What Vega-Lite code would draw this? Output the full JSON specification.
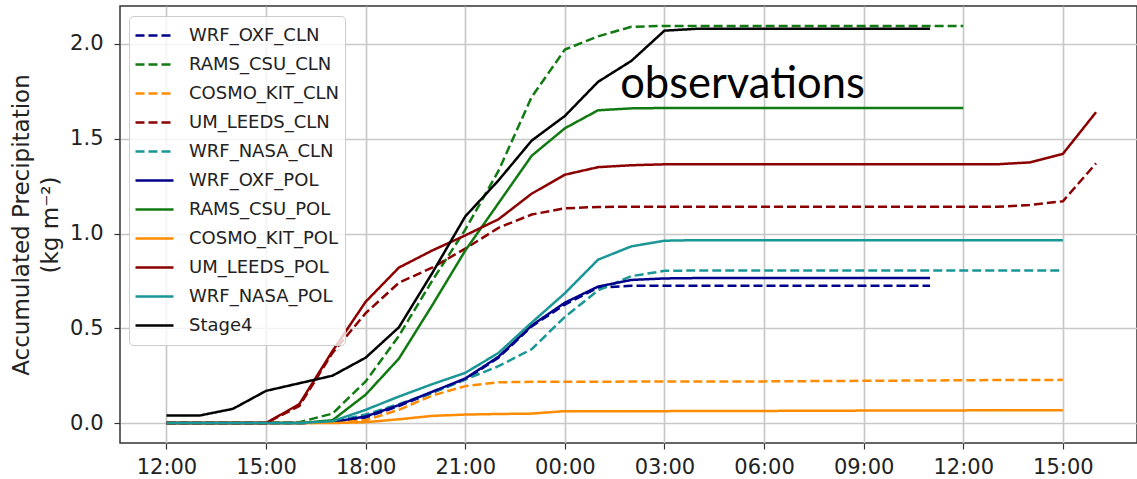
{
  "$schema": "https://vega.github.io/schema/vega-lite/v6.json",
  "autosize": {"type": "none"},
  "padding": {"left": 120, "top": 6, "right": 0, "bottom": 36},
  "width": 1017,
  "height": 437,
  "background": "white",
  "config": {
    "font": "DejaVu Sans",
    "view": {"stroke": "#333333", "strokeWidth": 1.5},
    "axis": {
      "labelFont": "DejaVu Sans",
      "labelFontSize": 21,
      "labelColor": "#222222",
      "titleFont": "DejaVu Sans",
      "titleFontSize": 23,
      "titleFontWeight": "normal",
      "titleColor": "#222222",
      "gridColor": "#c8c8c8",
      "gridWidth": 1.7,
      "tickColor": "#333333",
      "tickWidth": 1.2,
      "tickSize": 6,
      "domain": false
    },
    "legend": {
      "labelFont": "DejaVu Sans",
      "labelFontSize": 18,
      "labelColor": "#222222"
    }
  },
  "layer": [
    {
      "data": {
        "values": [
          {"s":"WRF_OXF_CLN","t":"2020-01-01T12:00:00Z","v":0},
          {"s":"WRF_OXF_CLN","t":"2020-01-01T13:00:00Z","v":0},
          {"s":"WRF_OXF_CLN","t":"2020-01-01T14:00:00Z","v":0},
          {"s":"WRF_OXF_CLN","t":"2020-01-01T15:00:00Z","v":0},
          {"s":"WRF_OXF_CLN","t":"2020-01-01T16:00:00Z","v":0},
          {"s":"WRF_OXF_CLN","t":"2020-01-01T17:00:00Z","v":0.005},
          {"s":"WRF_OXF_CLN","t":"2020-01-01T18:00:00Z","v":0.03},
          {"s":"WRF_OXF_CLN","t":"2020-01-01T19:00:00Z","v":0.09},
          {"s":"WRF_OXF_CLN","t":"2020-01-01T20:00:00Z","v":0.16},
          {"s":"WRF_OXF_CLN","t":"2020-01-01T21:00:00Z","v":0.23},
          {"s":"WRF_OXF_CLN","t":"2020-01-01T22:00:00Z","v":0.345},
          {"s":"WRF_OXF_CLN","t":"2020-01-01T23:00:00Z","v":0.51},
          {"s":"WRF_OXF_CLN","t":"2020-01-02T00:00:00Z","v":0.625},
          {"s":"WRF_OXF_CLN","t":"2020-01-02T01:00:00Z","v":0.715},
          {"s":"WRF_OXF_CLN","t":"2020-01-02T02:00:00Z","v":0.724},
          {"s":"WRF_OXF_CLN","t":"2020-01-02T03:00:00Z","v":0.725},
          {"s":"WRF_OXF_CLN","t":"2020-01-02T04:00:00Z","v":0.725},
          {"s":"WRF_OXF_CLN","t":"2020-01-02T05:00:00Z","v":0.725},
          {"s":"WRF_OXF_CLN","t":"2020-01-02T06:00:00Z","v":0.725},
          {"s":"WRF_OXF_CLN","t":"2020-01-02T07:00:00Z","v":0.725},
          {"s":"WRF_OXF_CLN","t":"2020-01-02T08:00:00Z","v":0.725},
          {"s":"WRF_OXF_CLN","t":"2020-01-02T09:00:00Z","v":0.725},
          {"s":"WRF_OXF_CLN","t":"2020-01-02T10:00:00Z","v":0.725},
          {"s":"WRF_OXF_CLN","t":"2020-01-02T11:00:00Z","v":0.725},

          {"s":"RAMS_CSU_CLN","t":"2020-01-01T12:00:00Z","v":0},
          {"s":"RAMS_CSU_CLN","t":"2020-01-01T13:00:00Z","v":0},
          {"s":"RAMS_CSU_CLN","t":"2020-01-01T14:00:00Z","v":0},
          {"s":"RAMS_CSU_CLN","t":"2020-01-01T15:00:00Z","v":0},
          {"s":"RAMS_CSU_CLN","t":"2020-01-01T16:00:00Z","v":0.005},
          {"s":"RAMS_CSU_CLN","t":"2020-01-01T17:00:00Z","v":0.05},
          {"s":"RAMS_CSU_CLN","t":"2020-01-01T18:00:00Z","v":0.22},
          {"s":"RAMS_CSU_CLN","t":"2020-01-01T19:00:00Z","v":0.46},
          {"s":"RAMS_CSU_CLN","t":"2020-01-01T20:00:00Z","v":0.75},
          {"s":"RAMS_CSU_CLN","t":"2020-01-01T21:00:00Z","v":1.02},
          {"s":"RAMS_CSU_CLN","t":"2020-01-01T22:00:00Z","v":1.33},
          {"s":"RAMS_CSU_CLN","t":"2020-01-01T23:00:00Z","v":1.72},
          {"s":"RAMS_CSU_CLN","t":"2020-01-02T00:00:00Z","v":1.97},
          {"s":"RAMS_CSU_CLN","t":"2020-01-02T01:00:00Z","v":2.04},
          {"s":"RAMS_CSU_CLN","t":"2020-01-02T02:00:00Z","v":2.09},
          {"s":"RAMS_CSU_CLN","t":"2020-01-02T03:00:00Z","v":2.095},
          {"s":"RAMS_CSU_CLN","t":"2020-01-02T04:00:00Z","v":2.095},
          {"s":"RAMS_CSU_CLN","t":"2020-01-02T05:00:00Z","v":2.095},
          {"s":"RAMS_CSU_CLN","t":"2020-01-02T06:00:00Z","v":2.095},
          {"s":"RAMS_CSU_CLN","t":"2020-01-02T07:00:00Z","v":2.095},
          {"s":"RAMS_CSU_CLN","t":"2020-01-02T08:00:00Z","v":2.095},
          {"s":"RAMS_CSU_CLN","t":"2020-01-02T09:00:00Z","v":2.095},
          {"s":"RAMS_CSU_CLN","t":"2020-01-02T10:00:00Z","v":2.095},
          {"s":"RAMS_CSU_CLN","t":"2020-01-02T11:00:00Z","v":2.095},
          {"s":"RAMS_CSU_CLN","t":"2020-01-02T12:00:00Z","v":2.095},

          {"s":"COSMO_KIT_CLN","t":"2020-01-01T12:00:00Z","v":0},
          {"s":"COSMO_KIT_CLN","t":"2020-01-01T13:00:00Z","v":0},
          {"s":"COSMO_KIT_CLN","t":"2020-01-01T14:00:00Z","v":0},
          {"s":"COSMO_KIT_CLN","t":"2020-01-01T15:00:00Z","v":0},
          {"s":"COSMO_KIT_CLN","t":"2020-01-01T16:00:00Z","v":0},
          {"s":"COSMO_KIT_CLN","t":"2020-01-01T17:00:00Z","v":0.003},
          {"s":"COSMO_KIT_CLN","t":"2020-01-01T18:00:00Z","v":0.015},
          {"s":"COSMO_KIT_CLN","t":"2020-01-01T19:00:00Z","v":0.07},
          {"s":"COSMO_KIT_CLN","t":"2020-01-01T20:00:00Z","v":0.145},
          {"s":"COSMO_KIT_CLN","t":"2020-01-01T21:00:00Z","v":0.195},
          {"s":"COSMO_KIT_CLN","t":"2020-01-01T22:00:00Z","v":0.215},
          {"s":"COSMO_KIT_CLN","t":"2020-01-01T23:00:00Z","v":0.218},
          {"s":"COSMO_KIT_CLN","t":"2020-01-02T00:00:00Z","v":0.218},
          {"s":"COSMO_KIT_CLN","t":"2020-01-02T01:00:00Z","v":0.218},
          {"s":"COSMO_KIT_CLN","t":"2020-01-02T02:00:00Z","v":0.219},
          {"s":"COSMO_KIT_CLN","t":"2020-01-02T03:00:00Z","v":0.219},
          {"s":"COSMO_KIT_CLN","t":"2020-01-02T04:00:00Z","v":0.22},
          {"s":"COSMO_KIT_CLN","t":"2020-01-02T05:00:00Z","v":0.22},
          {"s":"COSMO_KIT_CLN","t":"2020-01-02T06:00:00Z","v":0.22},
          {"s":"COSMO_KIT_CLN","t":"2020-01-02T07:00:00Z","v":0.221},
          {"s":"COSMO_KIT_CLN","t":"2020-01-02T08:00:00Z","v":0.222},
          {"s":"COSMO_KIT_CLN","t":"2020-01-02T09:00:00Z","v":0.223},
          {"s":"COSMO_KIT_CLN","t":"2020-01-02T10:00:00Z","v":0.224},
          {"s":"COSMO_KIT_CLN","t":"2020-01-02T11:00:00Z","v":0.225},
          {"s":"COSMO_KIT_CLN","t":"2020-01-02T12:00:00Z","v":0.226},
          {"s":"COSMO_KIT_CLN","t":"2020-01-02T13:00:00Z","v":0.227},
          {"s":"COSMO_KIT_CLN","t":"2020-01-02T14:00:00Z","v":0.227},
          {"s":"COSMO_KIT_CLN","t":"2020-01-02T15:00:00Z","v":0.228},

          {"s":"UM_LEEDS_CLN","t":"2020-01-01T12:00:00Z","v":0},
          {"s":"UM_LEEDS_CLN","t":"2020-01-01T13:00:00Z","v":0},
          {"s":"UM_LEEDS_CLN","t":"2020-01-01T14:00:00Z","v":0},
          {"s":"UM_LEEDS_CLN","t":"2020-01-01T15:00:00Z","v":0},
          {"s":"UM_LEEDS_CLN","t":"2020-01-01T16:00:00Z","v":0.09},
          {"s":"UM_LEEDS_CLN","t":"2020-01-01T17:00:00Z","v":0.37},
          {"s":"UM_LEEDS_CLN","t":"2020-01-01T18:00:00Z","v":0.58},
          {"s":"UM_LEEDS_CLN","t":"2020-01-01T19:00:00Z","v":0.74},
          {"s":"UM_LEEDS_CLN","t":"2020-01-01T20:00:00Z","v":0.82},
          {"s":"UM_LEEDS_CLN","t":"2020-01-01T21:00:00Z","v":0.92},
          {"s":"UM_LEEDS_CLN","t":"2020-01-01T22:00:00Z","v":1.03},
          {"s":"UM_LEEDS_CLN","t":"2020-01-01T23:00:00Z","v":1.1},
          {"s":"UM_LEEDS_CLN","t":"2020-01-02T00:00:00Z","v":1.133},
          {"s":"UM_LEEDS_CLN","t":"2020-01-02T01:00:00Z","v":1.14},
          {"s":"UM_LEEDS_CLN","t":"2020-01-02T02:00:00Z","v":1.141},
          {"s":"UM_LEEDS_CLN","t":"2020-01-02T03:00:00Z","v":1.141},
          {"s":"UM_LEEDS_CLN","t":"2020-01-02T04:00:00Z","v":1.141},
          {"s":"UM_LEEDS_CLN","t":"2020-01-02T05:00:00Z","v":1.141},
          {"s":"UM_LEEDS_CLN","t":"2020-01-02T06:00:00Z","v":1.141},
          {"s":"UM_LEEDS_CLN","t":"2020-01-02T07:00:00Z","v":1.141},
          {"s":"UM_LEEDS_CLN","t":"2020-01-02T08:00:00Z","v":1.141},
          {"s":"UM_LEEDS_CLN","t":"2020-01-02T09:00:00Z","v":1.141},
          {"s":"UM_LEEDS_CLN","t":"2020-01-02T10:00:00Z","v":1.141},
          {"s":"UM_LEEDS_CLN","t":"2020-01-02T11:00:00Z","v":1.141},
          {"s":"UM_LEEDS_CLN","t":"2020-01-02T12:00:00Z","v":1.141},
          {"s":"UM_LEEDS_CLN","t":"2020-01-02T13:00:00Z","v":1.141},
          {"s":"UM_LEEDS_CLN","t":"2020-01-02T14:00:00Z","v":1.15},
          {"s":"UM_LEEDS_CLN","t":"2020-01-02T15:00:00Z","v":1.17},
          {"s":"UM_LEEDS_CLN","t":"2020-01-02T16:00:00Z","v":1.37},

          {"s":"WRF_NASA_CLN","t":"2020-01-01T12:00:00Z","v":0},
          {"s":"WRF_NASA_CLN","t":"2020-01-01T13:00:00Z","v":0},
          {"s":"WRF_NASA_CLN","t":"2020-01-01T14:00:00Z","v":0},
          {"s":"WRF_NASA_CLN","t":"2020-01-01T15:00:00Z","v":0},
          {"s":"WRF_NASA_CLN","t":"2020-01-01T16:00:00Z","v":0},
          {"s":"WRF_NASA_CLN","t":"2020-01-01T17:00:00Z","v":0.008},
          {"s":"WRF_NASA_CLN","t":"2020-01-01T18:00:00Z","v":0.045},
          {"s":"WRF_NASA_CLN","t":"2020-01-01T19:00:00Z","v":0.1},
          {"s":"WRF_NASA_CLN","t":"2020-01-01T20:00:00Z","v":0.16},
          {"s":"WRF_NASA_CLN","t":"2020-01-01T21:00:00Z","v":0.23},
          {"s":"WRF_NASA_CLN","t":"2020-01-01T22:00:00Z","v":0.3},
          {"s":"WRF_NASA_CLN","t":"2020-01-01T23:00:00Z","v":0.39},
          {"s":"WRF_NASA_CLN","t":"2020-01-02T00:00:00Z","v":0.56},
          {"s":"WRF_NASA_CLN","t":"2020-01-02T01:00:00Z","v":0.7},
          {"s":"WRF_NASA_CLN","t":"2020-01-02T02:00:00Z","v":0.775},
          {"s":"WRF_NASA_CLN","t":"2020-01-02T03:00:00Z","v":0.803},
          {"s":"WRF_NASA_CLN","t":"2020-01-02T04:00:00Z","v":0.805},
          {"s":"WRF_NASA_CLN","t":"2020-01-02T05:00:00Z","v":0.805},
          {"s":"WRF_NASA_CLN","t":"2020-01-02T06:00:00Z","v":0.805},
          {"s":"WRF_NASA_CLN","t":"2020-01-02T07:00:00Z","v":0.805},
          {"s":"WRF_NASA_CLN","t":"2020-01-02T08:00:00Z","v":0.805},
          {"s":"WRF_NASA_CLN","t":"2020-01-02T09:00:00Z","v":0.805},
          {"s":"WRF_NASA_CLN","t":"2020-01-02T10:00:00Z","v":0.805},
          {"s":"WRF_NASA_CLN","t":"2020-01-02T11:00:00Z","v":0.805},
          {"s":"WRF_NASA_CLN","t":"2020-01-02T12:00:00Z","v":0.805},
          {"s":"WRF_NASA_CLN","t":"2020-01-02T13:00:00Z","v":0.805},
          {"s":"WRF_NASA_CLN","t":"2020-01-02T14:00:00Z","v":0.805},
          {"s":"WRF_NASA_CLN","t":"2020-01-02T15:00:00Z","v":0.805},

          {"s":"WRF_OXF_POL","t":"2020-01-01T12:00:00Z","v":0},
          {"s":"WRF_OXF_POL","t":"2020-01-01T13:00:00Z","v":0},
          {"s":"WRF_OXF_POL","t":"2020-01-01T14:00:00Z","v":0},
          {"s":"WRF_OXF_POL","t":"2020-01-01T15:00:00Z","v":0},
          {"s":"WRF_OXF_POL","t":"2020-01-01T16:00:00Z","v":0},
          {"s":"WRF_OXF_POL","t":"2020-01-01T17:00:00Z","v":0.005},
          {"s":"WRF_OXF_POL","t":"2020-01-01T18:00:00Z","v":0.035},
          {"s":"WRF_OXF_POL","t":"2020-01-01T19:00:00Z","v":0.095},
          {"s":"WRF_OXF_POL","t":"2020-01-01T20:00:00Z","v":0.165},
          {"s":"WRF_OXF_POL","t":"2020-01-01T21:00:00Z","v":0.235},
          {"s":"WRF_OXF_POL","t":"2020-01-01T22:00:00Z","v":0.35},
          {"s":"WRF_OXF_POL","t":"2020-01-01T23:00:00Z","v":0.515},
          {"s":"WRF_OXF_POL","t":"2020-01-02T00:00:00Z","v":0.635},
          {"s":"WRF_OXF_POL","t":"2020-01-02T01:00:00Z","v":0.72},
          {"s":"WRF_OXF_POL","t":"2020-01-02T02:00:00Z","v":0.755},
          {"s":"WRF_OXF_POL","t":"2020-01-02T03:00:00Z","v":0.763},
          {"s":"WRF_OXF_POL","t":"2020-01-02T04:00:00Z","v":0.765},
          {"s":"WRF_OXF_POL","t":"2020-01-02T05:00:00Z","v":0.765},
          {"s":"WRF_OXF_POL","t":"2020-01-02T06:00:00Z","v":0.765},
          {"s":"WRF_OXF_POL","t":"2020-01-02T07:00:00Z","v":0.765},
          {"s":"WRF_OXF_POL","t":"2020-01-02T08:00:00Z","v":0.765},
          {"s":"WRF_OXF_POL","t":"2020-01-02T09:00:00Z","v":0.765},
          {"s":"WRF_OXF_POL","t":"2020-01-02T10:00:00Z","v":0.765},
          {"s":"WRF_OXF_POL","t":"2020-01-02T11:00:00Z","v":0.765},

          {"s":"RAMS_CSU_POL","t":"2020-01-01T12:00:00Z","v":0},
          {"s":"RAMS_CSU_POL","t":"2020-01-01T13:00:00Z","v":0},
          {"s":"RAMS_CSU_POL","t":"2020-01-01T14:00:00Z","v":0},
          {"s":"RAMS_CSU_POL","t":"2020-01-01T15:00:00Z","v":0},
          {"s":"RAMS_CSU_POL","t":"2020-01-01T16:00:00Z","v":0},
          {"s":"RAMS_CSU_POL","t":"2020-01-01T17:00:00Z","v":0.015},
          {"s":"RAMS_CSU_POL","t":"2020-01-01T18:00:00Z","v":0.15},
          {"s":"RAMS_CSU_POL","t":"2020-01-01T19:00:00Z","v":0.34},
          {"s":"RAMS_CSU_POL","t":"2020-01-01T20:00:00Z","v":0.62},
          {"s":"RAMS_CSU_POL","t":"2020-01-01T21:00:00Z","v":0.91},
          {"s":"RAMS_CSU_POL","t":"2020-01-01T22:00:00Z","v":1.16},
          {"s":"RAMS_CSU_POL","t":"2020-01-01T23:00:00Z","v":1.41},
          {"s":"RAMS_CSU_POL","t":"2020-01-02T00:00:00Z","v":1.555},
          {"s":"RAMS_CSU_POL","t":"2020-01-02T01:00:00Z","v":1.65},
          {"s":"RAMS_CSU_POL","t":"2020-01-02T02:00:00Z","v":1.66},
          {"s":"RAMS_CSU_POL","t":"2020-01-02T03:00:00Z","v":1.662},
          {"s":"RAMS_CSU_POL","t":"2020-01-02T04:00:00Z","v":1.662},
          {"s":"RAMS_CSU_POL","t":"2020-01-02T05:00:00Z","v":1.662},
          {"s":"RAMS_CSU_POL","t":"2020-01-02T06:00:00Z","v":1.662},
          {"s":"RAMS_CSU_POL","t":"2020-01-02T07:00:00Z","v":1.662},
          {"s":"RAMS_CSU_POL","t":"2020-01-02T08:00:00Z","v":1.662},
          {"s":"RAMS_CSU_POL","t":"2020-01-02T09:00:00Z","v":1.662},
          {"s":"RAMS_CSU_POL","t":"2020-01-02T10:00:00Z","v":1.662},
          {"s":"RAMS_CSU_POL","t":"2020-01-02T11:00:00Z","v":1.662},
          {"s":"RAMS_CSU_POL","t":"2020-01-02T12:00:00Z","v":1.662},

          {"s":"COSMO_KIT_POL","t":"2020-01-01T12:00:00Z","v":0},
          {"s":"COSMO_KIT_POL","t":"2020-01-01T13:00:00Z","v":0},
          {"s":"COSMO_KIT_POL","t":"2020-01-01T14:00:00Z","v":0},
          {"s":"COSMO_KIT_POL","t":"2020-01-01T15:00:00Z","v":0},
          {"s":"COSMO_KIT_POL","t":"2020-01-01T16:00:00Z","v":0},
          {"s":"COSMO_KIT_POL","t":"2020-01-01T17:00:00Z","v":0},
          {"s":"COSMO_KIT_POL","t":"2020-01-01T18:00:00Z","v":0.005},
          {"s":"COSMO_KIT_POL","t":"2020-01-01T19:00:00Z","v":0.02},
          {"s":"COSMO_KIT_POL","t":"2020-01-01T20:00:00Z","v":0.038},
          {"s":"COSMO_KIT_POL","t":"2020-01-01T21:00:00Z","v":0.045},
          {"s":"COSMO_KIT_POL","t":"2020-01-01T22:00:00Z","v":0.048},
          {"s":"COSMO_KIT_POL","t":"2020-01-01T23:00:00Z","v":0.05},
          {"s":"COSMO_KIT_POL","t":"2020-01-02T00:00:00Z","v":0.063},
          {"s":"COSMO_KIT_POL","t":"2020-01-02T01:00:00Z","v":0.063},
          {"s":"COSMO_KIT_POL","t":"2020-01-02T02:00:00Z","v":0.063},
          {"s":"COSMO_KIT_POL","t":"2020-01-02T03:00:00Z","v":0.063},
          {"s":"COSMO_KIT_POL","t":"2020-01-02T04:00:00Z","v":0.064},
          {"s":"COSMO_KIT_POL","t":"2020-01-02T05:00:00Z","v":0.064},
          {"s":"COSMO_KIT_POL","t":"2020-01-02T06:00:00Z","v":0.064},
          {"s":"COSMO_KIT_POL","t":"2020-01-02T07:00:00Z","v":0.065},
          {"s":"COSMO_KIT_POL","t":"2020-01-02T08:00:00Z","v":0.065},
          {"s":"COSMO_KIT_POL","t":"2020-01-02T09:00:00Z","v":0.066},
          {"s":"COSMO_KIT_POL","t":"2020-01-02T10:00:00Z","v":0.066},
          {"s":"COSMO_KIT_POL","t":"2020-01-02T11:00:00Z","v":0.067},
          {"s":"COSMO_KIT_POL","t":"2020-01-02T12:00:00Z","v":0.067},
          {"s":"COSMO_KIT_POL","t":"2020-01-02T13:00:00Z","v":0.068},
          {"s":"COSMO_KIT_POL","t":"2020-01-02T14:00:00Z","v":0.068},
          {"s":"COSMO_KIT_POL","t":"2020-01-02T15:00:00Z","v":0.068},

          {"s":"UM_LEEDS_POL","t":"2020-01-01T12:00:00Z","v":0},
          {"s":"UM_LEEDS_POL","t":"2020-01-01T13:00:00Z","v":0},
          {"s":"UM_LEEDS_POL","t":"2020-01-01T14:00:00Z","v":0},
          {"s":"UM_LEEDS_POL","t":"2020-01-01T15:00:00Z","v":0},
          {"s":"UM_LEEDS_POL","t":"2020-01-01T16:00:00Z","v":0.1},
          {"s":"UM_LEEDS_POL","t":"2020-01-01T17:00:00Z","v":0.38},
          {"s":"UM_LEEDS_POL","t":"2020-01-01T18:00:00Z","v":0.64},
          {"s":"UM_LEEDS_POL","t":"2020-01-01T19:00:00Z","v":0.82},
          {"s":"UM_LEEDS_POL","t":"2020-01-01T20:00:00Z","v":0.91},
          {"s":"UM_LEEDS_POL","t":"2020-01-01T21:00:00Z","v":0.99},
          {"s":"UM_LEEDS_POL","t":"2020-01-01T22:00:00Z","v":1.075},
          {"s":"UM_LEEDS_POL","t":"2020-01-01T23:00:00Z","v":1.21},
          {"s":"UM_LEEDS_POL","t":"2020-01-02T00:00:00Z","v":1.31},
          {"s":"UM_LEEDS_POL","t":"2020-01-02T01:00:00Z","v":1.35},
          {"s":"UM_LEEDS_POL","t":"2020-01-02T02:00:00Z","v":1.36},
          {"s":"UM_LEEDS_POL","t":"2020-01-02T03:00:00Z","v":1.365},
          {"s":"UM_LEEDS_POL","t":"2020-01-02T04:00:00Z","v":1.365},
          {"s":"UM_LEEDS_POL","t":"2020-01-02T05:00:00Z","v":1.365},
          {"s":"UM_LEEDS_POL","t":"2020-01-02T06:00:00Z","v":1.365},
          {"s":"UM_LEEDS_POL","t":"2020-01-02T07:00:00Z","v":1.365},
          {"s":"UM_LEEDS_POL","t":"2020-01-02T08:00:00Z","v":1.365},
          {"s":"UM_LEEDS_POL","t":"2020-01-02T09:00:00Z","v":1.365},
          {"s":"UM_LEEDS_POL","t":"2020-01-02T10:00:00Z","v":1.365},
          {"s":"UM_LEEDS_POL","t":"2020-01-02T11:00:00Z","v":1.365},
          {"s":"UM_LEEDS_POL","t":"2020-01-02T12:00:00Z","v":1.365},
          {"s":"UM_LEEDS_POL","t":"2020-01-02T13:00:00Z","v":1.365},
          {"s":"UM_LEEDS_POL","t":"2020-01-02T14:00:00Z","v":1.375},
          {"s":"UM_LEEDS_POL","t":"2020-01-02T15:00:00Z","v":1.42},
          {"s":"UM_LEEDS_POL","t":"2020-01-02T16:00:00Z","v":1.64},

          {"s":"WRF_NASA_POL","t":"2020-01-01T12:00:00Z","v":0},
          {"s":"WRF_NASA_POL","t":"2020-01-01T13:00:00Z","v":0},
          {"s":"WRF_NASA_POL","t":"2020-01-01T14:00:00Z","v":0},
          {"s":"WRF_NASA_POL","t":"2020-01-01T15:00:00Z","v":0},
          {"s":"WRF_NASA_POL","t":"2020-01-01T16:00:00Z","v":0},
          {"s":"WRF_NASA_POL","t":"2020-01-01T17:00:00Z","v":0.01},
          {"s":"WRF_NASA_POL","t":"2020-01-01T18:00:00Z","v":0.07},
          {"s":"WRF_NASA_POL","t":"2020-01-01T19:00:00Z","v":0.14},
          {"s":"WRF_NASA_POL","t":"2020-01-01T20:00:00Z","v":0.205},
          {"s":"WRF_NASA_POL","t":"2020-01-01T21:00:00Z","v":0.265},
          {"s":"WRF_NASA_POL","t":"2020-01-01T22:00:00Z","v":0.37},
          {"s":"WRF_NASA_POL","t":"2020-01-01T23:00:00Z","v":0.53},
          {"s":"WRF_NASA_POL","t":"2020-01-02T00:00:00Z","v":0.685},
          {"s":"WRF_NASA_POL","t":"2020-01-02T01:00:00Z","v":0.862},
          {"s":"WRF_NASA_POL","t":"2020-01-02T02:00:00Z","v":0.932},
          {"s":"WRF_NASA_POL","t":"2020-01-02T03:00:00Z","v":0.962},
          {"s":"WRF_NASA_POL","t":"2020-01-02T04:00:00Z","v":0.965},
          {"s":"WRF_NASA_POL","t":"2020-01-02T05:00:00Z","v":0.965},
          {"s":"WRF_NASA_POL","t":"2020-01-02T06:00:00Z","v":0.965},
          {"s":"WRF_NASA_POL","t":"2020-01-02T07:00:00Z","v":0.965},
          {"s":"WRF_NASA_POL","t":"2020-01-02T08:00:00Z","v":0.965},
          {"s":"WRF_NASA_POL","t":"2020-01-02T09:00:00Z","v":0.965},
          {"s":"WRF_NASA_POL","t":"2020-01-02T10:00:00Z","v":0.965},
          {"s":"WRF_NASA_POL","t":"2020-01-02T11:00:00Z","v":0.965},
          {"s":"WRF_NASA_POL","t":"2020-01-02T12:00:00Z","v":0.965},
          {"s":"WRF_NASA_POL","t":"2020-01-02T13:00:00Z","v":0.965},
          {"s":"WRF_NASA_POL","t":"2020-01-02T14:00:00Z","v":0.965},
          {"s":"WRF_NASA_POL","t":"2020-01-02T15:00:00Z","v":0.965},

          {"s":"Stage4","t":"2020-01-01T12:00:00Z","v":0.04},
          {"s":"Stage4","t":"2020-01-01T13:00:00Z","v":0.04},
          {"s":"Stage4","t":"2020-01-01T14:00:00Z","v":0.075},
          {"s":"Stage4","t":"2020-01-01T15:00:00Z","v":0.17},
          {"s":"Stage4","t":"2020-01-01T16:00:00Z","v":0.21},
          {"s":"Stage4","t":"2020-01-01T17:00:00Z","v":0.25},
          {"s":"Stage4","t":"2020-01-01T18:00:00Z","v":0.345},
          {"s":"Stage4","t":"2020-01-01T19:00:00Z","v":0.505},
          {"s":"Stage4","t":"2020-01-01T20:00:00Z","v":0.79},
          {"s":"Stage4","t":"2020-01-01T21:00:00Z","v":1.09},
          {"s":"Stage4","t":"2020-01-01T22:00:00Z","v":1.28},
          {"s":"Stage4","t":"2020-01-01T23:00:00Z","v":1.49},
          {"s":"Stage4","t":"2020-01-02T00:00:00Z","v":1.62},
          {"s":"Stage4","t":"2020-01-02T01:00:00Z","v":1.8},
          {"s":"Stage4","t":"2020-01-02T02:00:00Z","v":1.91},
          {"s":"Stage4","t":"2020-01-02T03:00:00Z","v":2.07},
          {"s":"Stage4","t":"2020-01-02T04:00:00Z","v":2.08},
          {"s":"Stage4","t":"2020-01-02T05:00:00Z","v":2.08},
          {"s":"Stage4","t":"2020-01-02T06:00:00Z","v":2.08},
          {"s":"Stage4","t":"2020-01-02T07:00:00Z","v":2.08},
          {"s":"Stage4","t":"2020-01-02T08:00:00Z","v":2.08},
          {"s":"Stage4","t":"2020-01-02T09:00:00Z","v":2.08},
          {"s":"Stage4","t":"2020-01-02T10:00:00Z","v":2.08},
          {"s":"Stage4","t":"2020-01-02T11:00:00Z","v":2.08}
        ]
      },
      "mark": {"type": "line", "strokeWidth": 2.5},
      "encoding": {
        "x": {
          "field": "t",
          "type": "temporal",
          "scale": {
            "type": "utc",
            "nice": false,
            "domain": [
              {"year": 2020, "month": 1, "date": 1, "hours": 10, "minutes": 36, "utc": true},
              {"year": 2020, "month": 1, "date": 2, "hours": 17, "minutes": 14, "utc": true}
            ]
          },
          "axis": {
            "title": null,
            "format": "%H:%M",
            "values": [
              {"year": 2020, "month": 1, "date": 1, "hours": 12, "utc": true},
              {"year": 2020, "month": 1, "date": 1, "hours": 15, "utc": true},
              {"year": 2020, "month": 1, "date": 1, "hours": 18, "utc": true},
              {"year": 2020, "month": 1, "date": 1, "hours": 21, "utc": true},
              {"year": 2020, "month": 1, "date": 2, "hours": 0, "utc": true},
              {"year": 2020, "month": 1, "date": 2, "hours": 3, "utc": true},
              {"year": 2020, "month": 1, "date": 2, "hours": 6, "utc": true},
              {"year": 2020, "month": 1, "date": 2, "hours": 9, "utc": true},
              {"year": 2020, "month": 1, "date": 2, "hours": 12, "utc": true},
              {"year": 2020, "month": 1, "date": 2, "hours": 15, "utc": true}
            ],
            "labelPadding": 7,
            "labelFlush": false,
            "labelOverlap": false
          }
        },
        "y": {
          "field": "v",
          "type": "quantitative",
          "scale": {"domain": [-0.105, 2.2], "nice": false, "zero": false},
          "axis": {
            "title": ["Accumulated Precipitation", "(kg m⁻²)"],
            "values": [0, 0.5, 1, 1.5, 2],
            "format": ".1f",
            "labelPadding": 11,
            "titlePadding": 7,
            "titleLineHeight": 29
          }
        },
        "color": {
          "field": "s",
          "type": "nominal",
          "scale": {
            "domain": ["WRF_OXF_CLN", "RAMS_CSU_CLN", "COSMO_KIT_CLN", "UM_LEEDS_CLN", "WRF_NASA_CLN", "WRF_OXF_POL", "RAMS_CSU_POL", "COSMO_KIT_POL", "UM_LEEDS_POL", "WRF_NASA_POL", "Stage4"],
            "range": ["#00008b", "#127a12", "#ff8c00", "#8b0000", "#1a9696", "#00008b", "#127a12", "#ff8c00", "#8b0000", "#1a9696", "#000000"]
          },
          "legend": {
            "title": null,
            "orient": "none",
            "legendX": 9,
            "legendY": 10,
            "symbolType": "stroke",
            "symbolSize": 1444,
            "symbolStrokeWidth": 2.5,
            "clipHeight": 29,
            "rowPadding": 0,
            "labelOffset": 14,
            "padding": 5,
            "fillColor": "rgba(255,255,255,0.8)",
            "strokeColor": "#cccccc",
            "cornerRadius": 4
          }
        },
        "strokeDash": {
          "field": "s",
          "type": "nominal",
          "scale": {
            "domain": ["WRF_OXF_CLN", "RAMS_CSU_CLN", "COSMO_KIT_CLN", "UM_LEEDS_CLN", "WRF_NASA_CLN", "WRF_OXF_POL", "RAMS_CSU_POL", "COSMO_KIT_POL", "UM_LEEDS_POL", "WRF_NASA_POL", "Stage4"],
            "range": [[9, 4], [9, 4], [9, 4], [9, 4], [9, 4], [1, 0], [1, 0], [1, 0], [1, 0], [1, 0], [1, 0]]
          },
          "legend": {
            "title": null,
            "orient": "none",
            "legendX": 9,
            "legendY": 10,
            "symbolType": "stroke",
            "symbolSize": 1444,
            "symbolStrokeWidth": 2.5,
            "clipHeight": 29,
            "rowPadding": 0,
            "labelOffset": 14,
            "padding": 5,
            "fillColor": "rgba(255,255,255,0.8)",
            "strokeColor": "#cccccc",
            "cornerRadius": 4
          }
        }
      }
    },
    {
      "data": {"values": [{"t": "2020-01-02T01:40:00Z", "v": 1.713, "label": "observations"}]},
      "mark": {"type": "text", "align": "left", "baseline": "alphabetic", "font": "Lato", "fontSize": 43.5, "color": "#000000"},
      "encoding": {
        "x": {"field": "t", "type": "temporal"},
        "y": {"field": "v", "type": "quantitative"},
        "text": {"field": "label"}
      }
    }
  ]
}
